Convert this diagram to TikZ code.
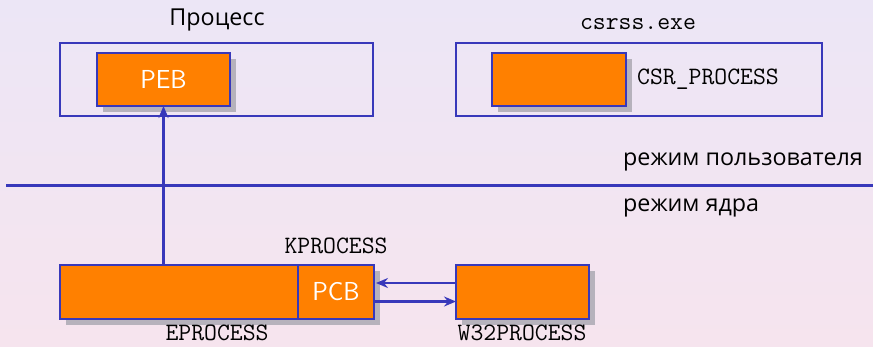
\documentclass[tikz,border=0pt]{standalone}
\usepackage{fontspec}
\newfontfamily\cyrsans{Open Sans}
\usetikzlibrary{arrows.meta,shadows}
\definecolor{framec}{RGB}{56,56,186}
\definecolor{orangec}{RGB}{255,128,0}
\definecolor{shadec}{RGB}{182,178,188}
\definecolor{bgtop}{RGB}{236,230,246}
\definecolor{bgbot}{RGB}{246,228,238}
\begin{document}
\begin{tikzpicture}[x=1pt,y=-1pt,
  boxframe/.style={draw=framec,line width=2.5pt,inner sep=0pt,outer sep=0pt},
  block/.style={boxframe,fill=orangec,text=white,
    font=\sffamily\fontsize{26}{26}\selectfont,
    drop shadow={shadow xshift=6pt,shadow yshift=-6pt,fill=shadec,opacity=1,draw=none}},
  inner/.style={boxframe,fill=orangec,text=white,font=\sffamily\fontsize{26}{26}\selectfont},
  ttlabel/.style={inner sep=0pt,font=\ttfamily\fontsize{25}{25}\selectfont},
  cyrlabel/.style={inner sep=0pt,font=\cyrsans\fontsize{23.3}{23.3}\selectfont},
  link/.style={draw=framec,line width=2.3pt,-{Stealth[length=12pt,width=10pt,inset=4pt]}}]
% background
\shade[top color=bgtop,bottom color=bgbot] (0,0) rectangle (873,346);
\useasboundingbox (0,0) rectangle (873,346);

% user-mode process
\node[boxframe,minimum width=313pt,minimum height=73pt] (proc) at (216.5,79.5) {};
\node[cyrlabel] (proclbl) at (217,20) {Процесс};
\node[block,minimum width=133pt,minimum height=53pt] (peb) at (163.5,79.5) {PEB};

% csrss process
\node[boxframe,minimum width=366pt,minimum height=73pt] (csrss) at (639,79.5) {};
\node[ttlabel] (csrsslbl) at (638,24) {csrss.exe};
\node[block,minimum width=134pt,minimum height=53pt] (csr) at (559,79.5) {};
\node[ttlabel,anchor=west] (csrlbl) at (637,79) {CSR\_PROCESS};

% mode boundary
\coordinate (lineL) at (6,185.7);
\coordinate (lineR) at (873,185.7);
\draw[framec,line width=2.6pt] (lineL) -- (lineR);
\node[cyrlabel,anchor=west] (umode) at (623,162) {режим пользователя};
\node[cyrlabel,anchor=west] (kmode) at (623,208) {режим ядра};

% kernel structures
\node[block,minimum width=314pt,minimum height=54pt] (eproc) at (217,292) {};
\node[inner,minimum width=76pt,minimum height=54pt] (pcb) at (336,292) {PCB};
\node[ttlabel] (kproclbl) at (336,246) {KPROCESS};
\node[ttlabel] (eproclbl) at (217,333) {EPROCESS};
\node[block,minimum width=133pt,minimum height=54pt] (w32) at (522.5,292) {};
\node[ttlabel] (w32lbl) at (522,333) {W32PROCESS};

% connectors
\draw[link] (w32.west |- 0,283) -- ([xshift=2pt]pcb.east |- 0,283);
\draw[link] (pcb.east |- 0,301.5) -- (w32.west |- 0,301.5);
\draw[link] (eproc.north -| 163.5,0) -- (peb.south);
\end{tikzpicture}
\end{document}
